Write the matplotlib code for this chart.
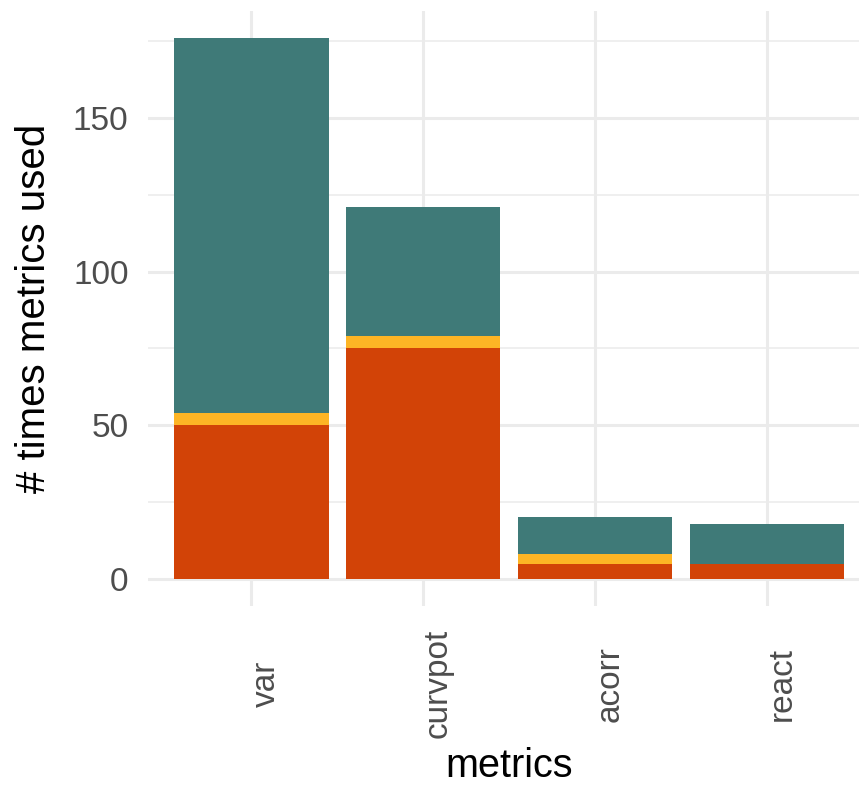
import numpy as np
import matplotlib.pyplot as plt

metrics = ['var', 'curvpot', 'acorr', 'react']
orange_vals = [50, 75, 5, 5]
yellow_vals = [4, 4, 3, 0]
teal_vals = [122, 42, 12, 13]

plt.rcParams['font.family'] = ['Liberation Sans', 'DejaVu Sans']

fig = plt.figure(figsize=(8.59, 7.86), dpi=100)
ax = fig.add_axes([148 / 859, 1 - 606 / 786, 722 / 859, 595 / 786])

x = np.arange(1, len(metrics) + 1)
orange = np.array(orange_vals)
yellow = np.array(yellow_vals)
teal = np.array(teal_vals)

ax.bar(x, orange, width=0.9, color='#D24307', zorder=3)
ax.bar(x, yellow, width=0.9, bottom=orange, color='#FDB525', zorder=3)
ax.bar(x, teal, width=0.9, bottom=orange + yellow, color='#3F7A78', zorder=3)

total = orange + yellow + teal
ymax = total.max()
ax.set_ylim(-0.05 * ymax, ymax * 1.05)
ax.set_xlim(0.4, len(metrics) + 0.6)

ax.set_yticks([0, 50, 100, 150])
ax.set_yticks([25, 75, 125, 175], minor=True)
ax.set_xticks(x)
ax.set_xticklabels(metrics)

ax.grid(which='major', color='#EBEBEB', linewidth=2.2, zorder=0)
ax.grid(which='minor', axis='y', color='#EBEBEB', linewidth=1.1, zorder=0)
for s in ax.spines.values():
    s.set_visible(False)

ax.tick_params(which='both', length=0)
ax.tick_params(axis='y', labelsize=24, labelcolor='#4D4D4D', pad=14)
ax.tick_params(axis='x', labelsize=24, labelcolor='#4D4D4D', pad=56)
for lbl in ax.get_xticklabels():
    lbl.set_rotation(90)
    lbl.set_va('center')
    lbl.set_ha('left')

ax.set_xlabel('metrics', fontsize=28.5, color='black', labelpad=6)
ax.set_ylabel('# times metrics used', fontsize=29, color='black', labelpad=14)

fig.savefig('out.png', dpi=100)
